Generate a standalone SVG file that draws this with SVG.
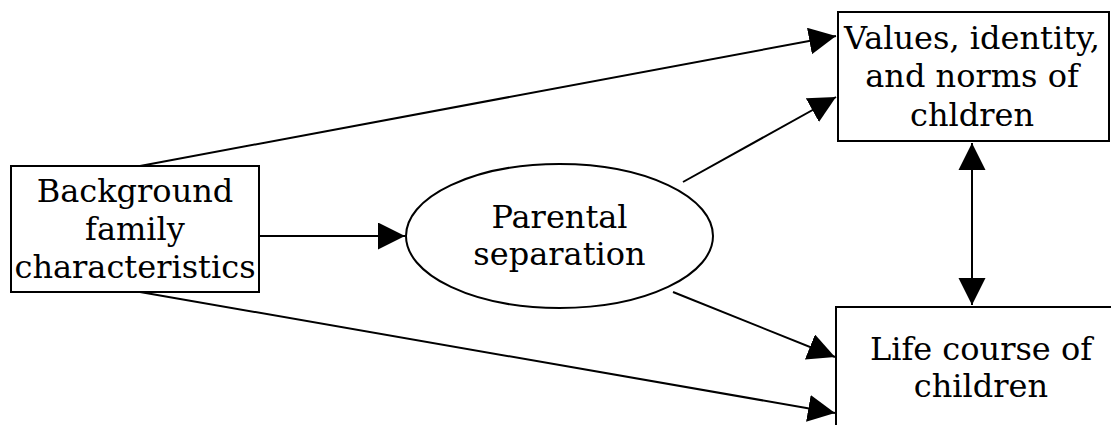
<svg xmlns="http://www.w3.org/2000/svg" width="1111" height="425" viewBox="0 0 1111 425">
<style>
.box{fill:#fff;stroke:#000;stroke-width:2}
.lbl{font-family:"DejaVu Serif",serif;font-size:32px;fill:#000;text-anchor:middle}
.edge{fill:none;stroke:#000;stroke-width:2}
</style>
<defs>
<marker id="ah" markerUnits="userSpaceOnUse" markerWidth="28" markerHeight="28" refX="27" refY="13.5" orient="auto">
<path d="M0,0 L27,13.5 L0,27 Z" fill="#000"/>
</marker>
<marker id="as" markerUnits="userSpaceOnUse" markerWidth="28" markerHeight="28" refX="0" refY="13.5" orient="auto">
<path d="M27,0 L0,13.5 L27,27 Z" fill="#000"/>
</marker>
</defs>
<rect width="1111" height="425" fill="#fff"/>
<g id="connectors">
<line class="edge" x1="140" y1="166" x2="836" y2="36" marker-end="url(#ah)"/>
<line class="edge" x1="260" y1="236" x2="405" y2="236" stroke-width="3" marker-end="url(#ah)"/>
<line class="edge" x1="140" y1="292" x2="835" y2="413" marker-end="url(#ah)"/>
<line class="edge" x1="683" y1="182" x2="836" y2="97" marker-end="url(#ah)"/>
<line class="edge" x1="673" y1="292" x2="835" y2="357" marker-end="url(#ah)"/>
<line class="edge" x1="972" y1="143" x2="972" y2="305" stroke-width="3" marker-start="url(#as)" marker-end="url(#ah)"/>
</g>
<g id="background">
<rect class="box" x="11" y="166" width="248" height="126"/>
<text class="lbl" x="135" y="202">Background</text>
<text class="lbl" x="135" y="240">family</text>
<text class="lbl" x="135" y="278">characteristics</text>
</g>
<g id="separation">
<ellipse class="box" cx="559.5" cy="236" rx="153.5" ry="72"/>
<text class="lbl" x="559.5" y="228">Parental</text>
<text class="lbl" x="559.5" y="265">separation</text>
</g>
<g id="values">
<rect class="box" x="838" y="12" width="271" height="129"/>
<text class="lbl" x="972" y="49">Values, identity,</text>
<text class="lbl" x="972" y="87">and norms of</text>
<text class="lbl" x="972" y="126">chldren</text>
</g>
<g id="lifecourse">
<rect class="box" x="836" y="307" width="300" height="140"/>
<text class="lbl" x="981" y="360">Life course of</text>
<text class="lbl" x="981" y="397">children</text>
</g>
</svg>
